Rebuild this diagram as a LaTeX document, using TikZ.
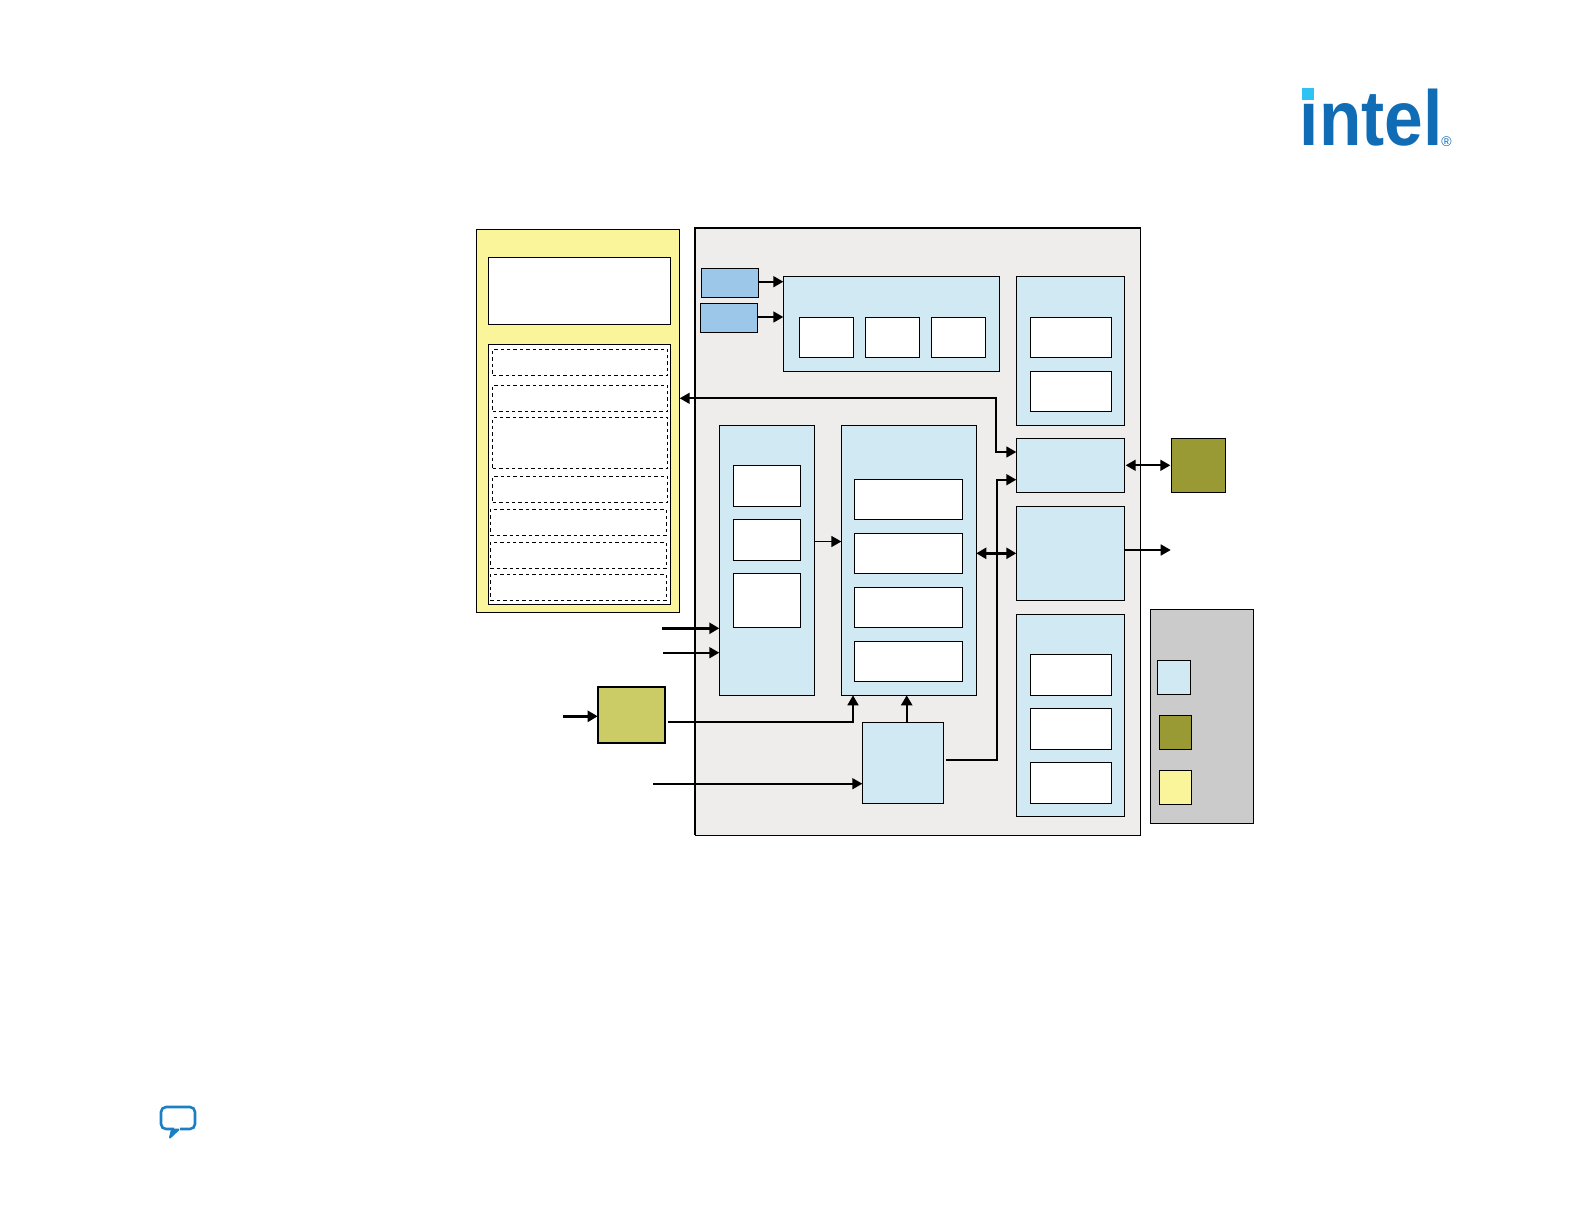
\documentclass[tikz,border=0pt]{standalone}
\usepackage{xcolor}
\usepackage{fontspec}
\usetikzlibrary{arrows.meta}
\setmainfont{Liberation Sans}
\definecolor{blockblue}{HTML}{D0E9F2}
\definecolor{clockblue}{HTML}{9DC7E8}
\definecolor{panelgray}{HTML}{EEEDEC}
\definecolor{legendgray}{HTML}{CBCBCB}
\definecolor{hostyellow}{HTML}{FAF59B}
\definecolor{extolive}{HTML}{9A9A35}
\definecolor{plolive}{HTML}{CCCC66}
\definecolor{logoblue}{HTML}{0F6CB5}
\definecolor{logocyan}{HTML}{2FC3F3}
\definecolor{bubbleblue}{HTML}{1B7FC4}
\tikzset{
  >={Triangle[length=10pt,width=11pt]},
  box/.style={draw, line width=1pt, inner sep=0pt, outer sep=0pt},
  block/.style={box, fill=blockblue},
  inner/.style={box, fill=white},
  slot/.style={draw, line width=1pt, dash pattern=on 3.4pt off 3pt, fill=white, inner sep=0pt, outer sep=0pt},
  link/.style={line width=1.7pt},
  heavy/.style={line width=2.4pt},
}
\begin{document}
\begin{tikzpicture}[x=1pt, y=-1pt]
  \useasboundingbox (0,0) rectangle (1584,1224);
  % logo and bubble
  \node[anchor=base, inner sep=0pt, text=logoblue, font=\fontsize{78}{78}\selectfont\bfseries] (logo) at (1371.3,145) {\scalebox{.89}[1]{intel}};
  \node[fill=logocyan, minimum width=11.4pt, minimum height=11.6pt, inner sep=0pt] (logodot) at (1308,94.2) {};
  \node[text=logoblue, inner sep=0pt, font=\fontsize{14}{14}\selectfont] (logoreg) at (1446.5,141.5) {®};
  \draw[bubbleblue, line width=2.6pt, rounded corners=5pt] (180,1129) -- (195,1129) -- (195,1107) -- (161,1107) -- (161,1129) -- (174,1129);
  \draw[bubbleblue, line width=2pt, fill=bubbleblue, line join=round] (178.5,1129.5) -- (170,1137.5) -- (172,1129.5) -- cycle;
  % host side
  \node[box, fill=hostyellow, minimum width=203pt, minimum height=383pt] (host) at (578.2,420.5) {};
  \node[inner, minimum width=182.4pt, minimum height=67pt] (hosttop) at (579.5,290.8) {};
  \node[inner, minimum width=182.4pt, minimum height=260pt] (hostlow) at (579.5,474.3) {};
  \node[slot, minimum width=175pt, minimum height=26pt] (slotA) at (580.2,362.3) {};
  \node[slot, minimum width=175pt, minimum height=26pt] (slotB) at (580.2,398.3) {};
  \node[slot, minimum width=175pt, minimum height=51pt] (slotC) at (580.2,442.8) {};
  \node[slot, minimum width=175pt, minimum height=26pt] (slotD) at (580.2,489.3) {};
  \node[slot, minimum width=176pt, minimum height=26pt] (slotE) at (578.3,522.3) {};
  \node[slot, minimum width=176pt, minimum height=26pt] (slotF) at (578.3,555.3) {};
  \node[slot, minimum width=176pt, minimum height=26pt] (slotG) at (578.3,587.3) {};
  % main panel
  \node[box, fill=panelgray, minimum width=445.4pt, minimum height=607.3pt] (core) at (918,531.35) {};
  \draw[line width=1.7pt] (core.south west) -- (core.north west) -- (core.north east);
  \node[box, fill=clockblue, minimum width=57.4pt, minimum height=29.4pt] (clkA) at (730,283) {};
  \node[box, fill=clockblue, minimum width=57.4pt, minimum height=29pt] (clkB) at (729,317.8) {};
  \node[block, minimum width=215.7pt, minimum height=95.2pt] (top) at (891.15,323.9) {};
  \node[inner, minimum width=54.5pt, minimum height=40pt] (topA) at (826.5,337.35) {};
  \node[inner, minimum width=54.5pt, minimum height=40pt] (topB) at (892.5,337.35) {};
  \node[inner, minimum width=54.5pt, minimum height=40pt] (topC) at (958.7,337.35) {};
  \node[block, minimum width=108.4pt, minimum height=148.5pt] (regs) at (1070.5,351) {};
  \node[inner, minimum width=81.4pt, minimum height=40.5pt] (regsA) at (1071,337.4) {};
  \node[inner, minimum width=81.4pt, minimum height=40.5pt] (regsB) at (1071,391.3) {};
  \node[block, minimum width=108.4pt, minimum height=54pt] (ifc) at (1070.5,465.3) {};
  \node[block, minimum width=108.4pt, minimum height=94pt] (ctl) at (1070.5,553.3) {};
  \node[block, minimum width=108.4pt, minimum height=202pt] (low) at (1070.5,715.3) {};
  \node[inner, minimum width=81.4pt, minimum height=41pt] (lowA) at (1071,674.8) {};
  \node[inner, minimum width=81.4pt, minimum height=41pt] (lowB) at (1071,728.8) {};
  \node[inner, minimum width=81.4pt, minimum height=41pt] (lowC) at (1071,782.8) {};
  \node[block, minimum width=95.4pt, minimum height=270pt] (input) at (767,560.3) {};
  \node[inner, minimum width=67.4pt, minimum height=41pt] (inputA) at (767,485.8) {};
  \node[inner, minimum width=67.4pt, minimum height=41pt] (inputB) at (767,539.8) {};
  \node[inner, minimum width=67.4pt, minimum height=54pt] (inputC) at (767,600.3) {};
  \node[block, minimum width=135pt, minimum height=270pt] (mid) at (908.8,560.3) {};
  \node[inner, minimum width=108.4pt, minimum height=40pt] (midA) at (908.5,499.2) {};
  \node[inner, minimum width=108.4pt, minimum height=40pt] (midB) at (908.5,553.3) {};
  \node[inner, minimum width=108.4pt, minimum height=40pt] (midC) at (908.5,607.3) {};
  \node[inner, minimum width=108.4pt, minimum height=40pt] (midD) at (908.5,661.3) {};
  \node[block, minimum width=81pt, minimum height=81pt] (gen) at (902.8,762.8) {};
  % outside the panel
  \node[box, fill=extolive, minimum width=54.4pt, minimum height=54pt] (ext) at (1198.5,465.3) {};
  \node[box, line width=1.9pt, fill=plolive, minimum width=67.6pt, minimum height=56.6pt] (pll) at (631.5,715) {};
  \node[box, fill=legendgray, minimum width=103.4pt, minimum height=214pt] (legend) at (1202,716.3) {};
  \node[block, minimum width=33.4pt, minimum height=34pt] (keyA) at (1174,677.3) {};
  \node[box, fill=extolive, minimum width=32.4pt, minimum height=34pt] (keyB) at (1175.5,732.3) {};
  \node[box, fill=hostyellow, minimum width=32.4pt, minimum height=34pt] (keyC) at (1175.5,787.3) {};
  % free ends
  \coordinate (outCtl) at (1170.7,550);
  \coordinate (inThick) at (662,628.3);
  \coordinate (inThin) at (663,652.7);
  \coordinate (inPll) at (562.7,716.3);
  \coordinate (inGen) at (653,783.7);
  % connectors
  \draw[->, link] (clkA.east |- 0,281.7) -- (top.west |- 0,281.7);
  \draw[->, link] (clkB.east |- 0,317) -- (top.west |- 0,317);
  \draw[<->, link] (host.east |- 0,398.3) -| (995.7,452) -- (ifc.west |- 0,452);
  \draw[->, link, shorten <=2.7pt] (gen.east |- 0,760) -| (997,479.7) -- (ifc.west |- 0,479.7);
  \draw[<->, heavy] (mid.east |- 0,553.3) -- (ctl.west);
  \draw[<->, link, shorten <=1pt, shorten >=1pt] (ifc.east) -- (ext.west);
  \draw[->, link] (ctl.east |- outCtl) -- (outCtl);
  \draw[->, heavy] (inThick) -- (input.west |- inThick);
  \draw[->, link] (inThin) -- (input.west |- inThin);
  \draw[->, heavy] (inPll) -- (pll.west |- inPll);
  \draw[->, link, shorten <=2.7pt] (pll.east |- 0,722) -| (853,695.3);
  \draw[->, heavy] (gen.north -| 906.7,0) -- (mid.south -| 906.7,0);
  \draw[->, link] (inGen) -- (gen.west |- inGen);
  \draw[->, link] (input.east |- 0,541.5) -- (mid.west |- 0,541.5);
\end{tikzpicture}
\end{document}
